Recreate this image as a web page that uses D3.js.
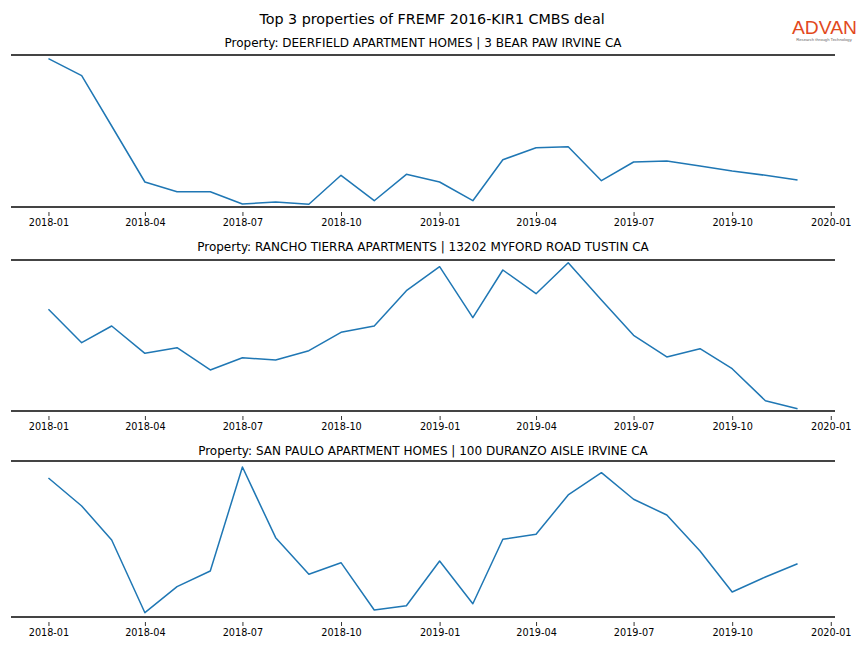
<!DOCTYPE html>
<html>
<head>
<meta charset="utf-8">
<script src="https://cdn.jsdelivr.net/npm/d3@7"></script>
<style>
  html, body { margin: 0; padding: 0; background: #fff; }
  svg { display: block; font-family: "DejaVu Sans", sans-serif; }
</style>
</head>
<body>
<svg id="chart" width="864" height="648"></svg>
<script>
// ---------- data ----------
const mainTitle = "Top 3 properties of FREMF 2016-KIR1 CMBS deal";
const months = ["2018-01","2018-02","2018-03","2018-04","2018-05","2018-06","2018-07","2018-08","2018-09","2018-10","2018-11","2018-12",
                "2019-01","2019-02","2019-03","2019-04","2019-05","2019-06","2019-07","2019-08","2019-09","2019-10","2019-11","2019-12"];
const tickLabels = ["2018-01","2018-04","2018-07","2018-10","2019-01","2019-04","2019-07","2019-10","2020-01"];
const propertyNames = [
  "Property: DEERFIELD APARTMENT HOMES | 3 BEAR PAW IRVINE CA",
  "Property: RANCHO TIERRA APARTMENTS | 13202 MYFORD ROAD TUSTIN CA",
  "Property: SAN PAULO APARTMENT HOMES | 100 DURANZO AISLE IRVINE CA"
];
const deerfield = [1483,1313,810,250,153,153,30,50,27,317,63,327,250,63,473,593,603,263,450,460,410,360,317,270];
const ranchoTierra = [1017,683,850,577,633,410,533,510,603,787,850,1203,1443,933,1410,1173,1483,1110,757,540,623,423,103,23];
const sanPaulo = [1390,1110,770,43,303,460,1500,793,427,543,70,113,560,133,777,827,1220,1443,1177,1020,660,250,400,533];
const seriesList = [deerfield, ranchoTierra, sanPaulo];

// ---------- layout ----------
const W = 864, H = 648;
const xLeft = 11, xRight = 835;
const panels = [
  {top: 55,  bottom: 207, padTop: 0.0254, padBottom: 0.0185, titleY: 46.5},
  {top: 260, bottom: 411, padTop: 0.0185, padBottom: 0.0158, titleY: 250.5},
  {top: 461, bottom: 617, padTop: 0.041,  padBottom: 0.0295, titleY: 454.5}
];
const lineColor = "#1f77b4";
const spineColor = "#444444";

const svg = d3.select("#chart");
const parse = d3.timeParse("%Y-%m");
const dates = months.map(parse);

// x scale with 5% margins like matplotlib
const t0 = dates[0].getTime(), t1 = dates[dates.length - 1].getTime();
const span = t1 - t0;
const x = d3.scaleTime()
  .domain([new Date(t0 - 0.05 * span), new Date(t1 + 0.05 * span)])
  .range([xLeft, xRight]);
const tickDates = tickLabels.map(parse);

// main title
svg.append("text")
  .attr("x", W / 2).attr("y", 24)
  .attr("text-anchor", "middle")
  .attr("font-size", "14.3px")
  .attr("fill", "#000")
  .text(mainTitle);

// logo
const logo = svg.append("g");
logo.append("text")
  .attr("x", 792).attr("y", 33.5)
  .attr("font-family", "Liberation Sans, Arial, sans-serif")
  .attr("font-size", "18px")
  .attr("fill", "#e2491d")
  .attr("textLength", 65)
  .attr("lengthAdjust", "spacingAndGlyphs")
  .text("ADVAN");
logo.append("text")
  .attr("x", 824).attr("y", 41)
  .attr("text-anchor", "middle")
  .attr("font-family", "Liberation Sans, Arial, sans-serif")
  .attr("font-size", "4.2px")
  .attr("fill", "#666")
  .text("Research through Technology");

panels.forEach((p, i) => {
  const vals = seriesList[i];
  const mn = d3.min(vals), mx = d3.max(vals);
  const r = mx - mn;
  const y = d3.scaleLinear()
    .domain([mn - p.padBottom * r, mx + p.padTop * r])
    .range([p.bottom, p.top]);

  const g = svg.append("g");

  // subtitle
  g.append("text")
    .attr("x", (xLeft + xRight) / 2).attr("y", p.titleY)
    .attr("text-anchor", "middle")
    .attr("font-size", "12px")
    .attr("fill", "#000")
    .text(propertyNames[i]);

  // line
  const line = d3.line()
    .x((d, j) => x(dates[j]))
    .y(d => y(d));
  g.append("path")
    .datum(vals)
    .attr("d", line)
    .attr("fill", "none")
    .attr("stroke", lineColor)
    .attr("stroke-width", 1.5)
    .attr("stroke-linejoin", "round");

  // spines (top & bottom)
  g.append("line")
    .attr("x1", xLeft).attr("x2", xRight)
    .attr("y1", p.top).attr("y2", p.top)
    .attr("stroke", spineColor).attr("stroke-width", 2);
  g.append("line")
    .attr("x1", xLeft).attr("x2", xRight)
    .attr("y1", p.bottom).attr("y2", p.bottom)
    .attr("stroke", spineColor).attr("stroke-width", 2);

  // x axis ticks
  const axis = d3.axisBottom(x)
    .tickValues(tickDates)
    .tickFormat(d3.timeFormat("%Y-%m"))
    .tickSize(4)
    .tickPadding(3);
  const ax = g.append("g")
    .attr("transform", `translate(0,${p.bottom + 5})`)
    .call(axis);
  ax.select(".domain").remove();
  ax.selectAll(".tick line").attr("stroke", "#000").attr("stroke-width", 0.8);
  ax.selectAll(".tick text")
    .attr("font-family", "DejaVu Sans, sans-serif")
    .attr("font-size", "9.7px")
    .attr("fill", "#000");
});
</script>
</body>
</html>
